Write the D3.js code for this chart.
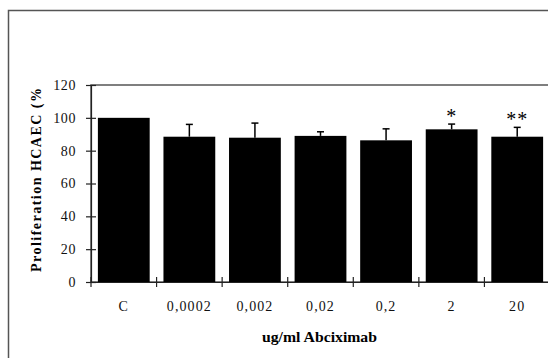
<!DOCTYPE html>
<html>
<head>
<meta charset="utf-8">
<script src="https://cdn.jsdelivr.net/npm/d3@7"></script>
<style>
  html, body { margin: 0; padding: 0; background: #fff; }
  svg { display: block; }
  svg text { font-family: 'Liberation Serif', 'Times New Roman', serif; }
</style>
</head>
<body>
<svg id="chart" width="548" height="358"></svg>
<script>
// Proliferation of HCAEC by Abciximab concentration
const categories = ["C", "0,0002", "0,002", "0,02", "0,2", "2", "20"];
const values     = [100, 88.5, 87.9, 89, 86.3, 93, 88.5];
const errors     = [0, 7.5, 8.9, 2.5, 7, 3.2, 5.7];
const marks      = ["", "", "", "", "", "*", "**"];
const yTicks     = [0, 20, 40, 60, 80, 100, 120];

const svg = d3.select("#chart");
const plotLeft = 91, plotRight = 550, plotTop = 85, plotBottom = 282;

// outer chart frame
svg.append("rect")
  .attr("x", 8.5).attr("y", 10.5)
  .attr("width", 620).attr("height", 420)
  .attr("fill", "#fff").attr("stroke", "#555").attr("stroke-width", 1.5);

const x = d3.scaleBand().domain(categories)
  .range([plotLeft, plotRight]).paddingInner(0.21).paddingOuter(0.105);
const y = d3.scaleLinear().domain([0, 120]).range([plotBottom, plotTop]);

// plot area border
svg.append("rect")
  .attr("x", plotLeft).attr("y", plotTop)
  .attr("width", plotRight - plotLeft).attr("height", plotBottom - plotTop)
  .attr("fill", "none").attr("stroke", "#555").attr("stroke-width", 1.5);

// bars
svg.append("g").selectAll("rect").data(categories).join("rect")
  .attr("x", d => x(d))
  .attr("width", x.bandwidth())
  .attr("y", (d, i) => y(values[i]))
  .attr("height", (d, i) => y(0) - y(values[i]))
  .attr("fill", "#000");

// upward error bars
const eb = svg.append("g").attr("stroke", "#000").attr("stroke-width", 1.5);
categories.forEach((c, i) => {
  if (!errors[i]) return;
  const cx = x(c) + x.bandwidth() / 2;
  eb.append("line").attr("x1", cx).attr("x2", cx)
    .attr("y1", y(values[i])).attr("y2", y(values[i] + errors[i]));
  eb.append("line").attr("x1", cx - 3.5).attr("x2", cx + 3.5)
    .attr("y1", y(values[i] + errors[i])).attr("y2", y(values[i] + errors[i]));
});

// significance marks
svg.append("g").selectAll("text").data(categories).join("text")
  .attr("x", d => x(d) + x.bandwidth() / 2)
  .attr("y", (d, i) => y(values[i] + errors[i]) - 1)
  .attr("text-anchor", "middle")
  .style("font-size", "20px")
  .attr("letter-spacing", 1)
  .text((d, i) => marks[i]);

// y axis with crossing ticks
const yAxis = svg.append("g")
  .attr("transform", `translate(${plotLeft},0)`)
  .call(d3.axisLeft(y).tickValues(yTicks).tickSize(5).tickPadding(10));
yAxis.attr("font-family", null);
yAxis.select(".domain").attr("stroke", "#222").attr("stroke-width", 1.2);
yAxis.selectAll(".tick line").attr("x1", 5).attr("stroke", "#222").attr("stroke-width", 1.2);
yAxis.selectAll(".tick text")
  .style("font-size", "14px").attr("fill", "#111").attr("letter-spacing", 0.6);

// x axis: labels centred in bands, ticks on band boundaries
const xAxis = svg.append("g")
  .attr("transform", `translate(0,${plotBottom})`)
  .call(d3.axisBottom(x).tickSize(0).tickPadding(19));
xAxis.attr("font-family", null);
xAxis.select(".domain").attr("stroke", "#222").attr("stroke-width", 1.2);
xAxis.selectAll(".tick text")
  .style("font-size", "14px").attr("fill", "#111").attr("letter-spacing", 1.1);
const boundaries = d3.range(0, categories.length + 1).map(i => x.range()[0] + i * x.step());
xAxis.append("g").selectAll("line").data(boundaries).join("line")
  .attr("x1", d => d).attr("x2", d => d)
  .attr("y1", -5).attr("y2", 5)
  .attr("stroke", "#222").attr("stroke-width", 1.2);

// axis titles
svg.append("text")
  .attr("x", (plotLeft + plotRight) / 2 - 1).attr("y", 342)
  .attr("text-anchor", "middle")
  .style("font-weight", "bold").style("font-size", "14px")
  .attr("textLength", 115).attr("lengthAdjust", "spacingAndGlyphs")
  .text("ug/ml Abciximab");

svg.append("text")
  .attr("transform", `translate(41,${(88 + 272) / 2}) rotate(-90)`)
  .attr("text-anchor", "middle")
  .style("font-weight", "bold").style("font-size", "14px")
  .attr("textLength", 184).attr("lengthAdjust", "spacing")
  .text("Proliferation HCAEC (%");
</script>
</body>
</html>
